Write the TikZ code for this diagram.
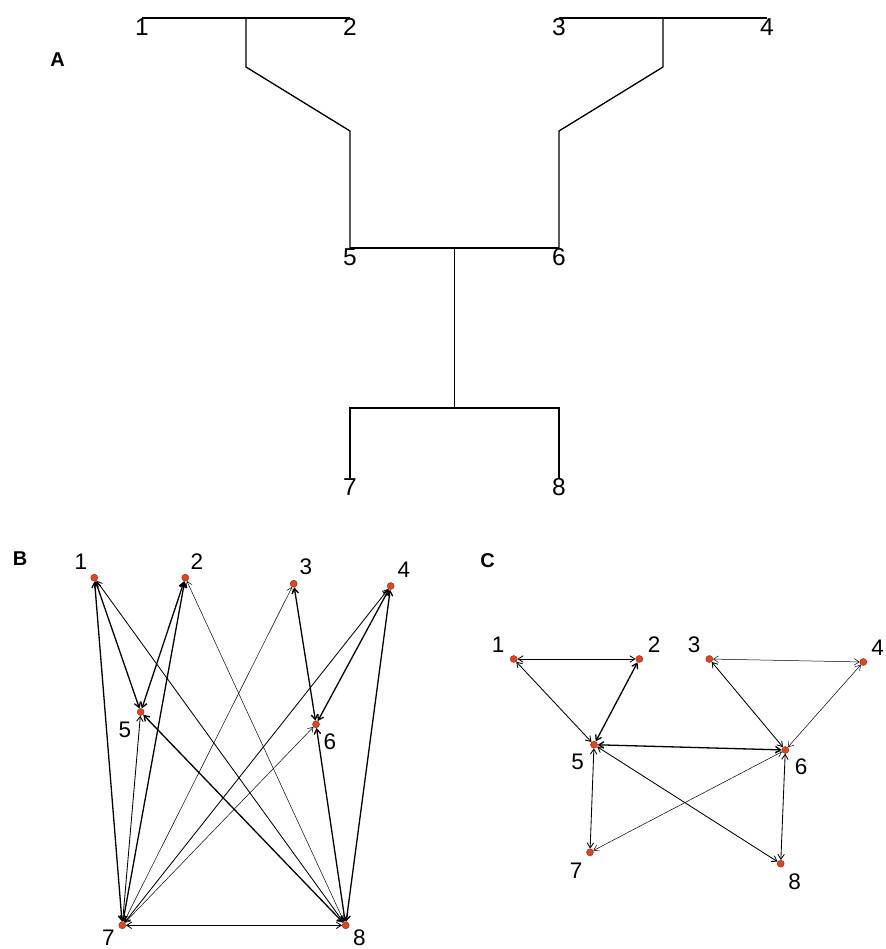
\documentclass[tikz,border=0pt]{standalone}
\usepackage{fontspec}
\setmainfont{Liberation Sans}
\usepackage{tikz}
\usetikzlibrary{arrows.meta}

\definecolor{dotred}{HTML}{E8421C}

\tikzset{
    dot/.style={circle,fill=dotred,draw=dotred!60!black,line width=0.4pt,minimum size=7pt,inner sep=0pt},
    lbl/.style={inner sep=0pt,font=\fontsize{22.5}{22.5}\selectfont},
    treelbl/.style={inner sep=0pt,below,font=\fontsize{24.5}{24.5}\selectfont},
    panel/.style={inner sep=0pt,font=\fontsize{20}{20}\selectfont\bfseries},
    wthin/.style={line width=0.5pt},
    wmid/.style={line width=0.85pt},
    wthick/.style={line width=1.3pt},
    branch/.style={line width=1.3pt,line join=miter}
}

\begin{document}
\begin{tikzpicture}[x=1pt,y=-1pt,>={Straight Barb[length=5pt,width=6.5pt]}]
    \useasboundingbox (0,0) rectangle (885,949);

    % Panel A: the tree
    \node[panel] (pa) at (57.5,59.5) {A};
    \coordinate (t1) at (142,18);
    \coordinate (t2) at (350,18);
    \coordinate (t3) at (559,18);
    \coordinate (t4) at (767,18);
    \coordinate (t5) at (350,248);
    \coordinate (t6) at (559,248);
    \coordinate (t7) at (350,478);
    \coordinate (t8) at (559,478);
    \draw[branch] (t1) -- (t2);
    \draw[branch] (t3) -- (t4);
    \draw[branch] (246,18) -- (246,67) -- (350,131) -- (t5);
    \draw[branch] (663,18) -- (663,67) -- (559,131) -- (t6);
    \draw[branch] (t5) -- (t6);
    \draw[branch] (454.5,248) -- (454.5,408);
    \draw[branch] (t7) |- (454.5,408) -| (t8);
    \foreach \n in {1,...,8}
        \node[treelbl] (tl\n) at (t\n) {\n};

    % Panel B
    \node[panel] (pb) at (20,559) {B};
    \foreach \n/\x/\y/\lx/\ly in {1/94.3/577.7/81/562, 2/185.3/577.7/197/561.7,
        3/293.7/583.7/306/567, 4/390.7/586/404/569.7, 5/140.7/712/125/729.5,
        6/316/724.3/330/742, 7/122.3/925.3/108.3/938, 8/345.7/925.3/359.3/938}
    {
        \node[dot] (b\n) at (\x,\y) {};
        \node[lbl] (lb\n) at (\lx,\ly) {\n};
    }
    % Draw the edges, both ends with arrows
    \foreach \a/\b in {1/7, 1/5, 2/5, 2/7, 3/6, 4/6, 4/8, 6/8, 5/8}
        \draw[<->,wthick] (b\a) -- (b\b);
    \foreach \a/\b in {4/7, 5/7, 7/8, 1/8}
        \draw[<->,wmid] (b\a) -- (b\b);
    \foreach \a/\b in {2/8, 3/7, 6/7}
        \draw[<->,wthin] (b\a) -- (b\b);

    % Panel C
    \node[panel] (pc) at (487.5,561) {C};
    \foreach \n/\x/\y/\lx/\ly in {1/513.7/659/498/644.7, 2/639.3/659/654/644.7,
        3/709.3/659/694/644.7, 4/863.3/662/877.7/648, 5/594/744.7/577.7/761.7,
        6/785.3/750/801/766.7, 7/590/852.3/576/870.8, 8/780.7/863.7/794.7/881.7}
    {
        \node[dot] (c\n) at (\x,\y) {};
        \node[lbl] (lc\n) at (\lx,\ly) {\n};
    }
    \foreach \a/\b in {2/5, 5/6}
        \draw[<->,wthick] (c\a) -- (c\b);
    \foreach \a/\b in {1/2, 1/5, 3/6, 5/7, 5/8, 6/8}
        \draw[<->,wmid] (c\a) -- (c\b);
    \foreach \a/\b in {3/4, 4/6, 6/7}
        \draw[<->,wthin] (c\a) -- (c\b);
\end{tikzpicture}
\end{document}
